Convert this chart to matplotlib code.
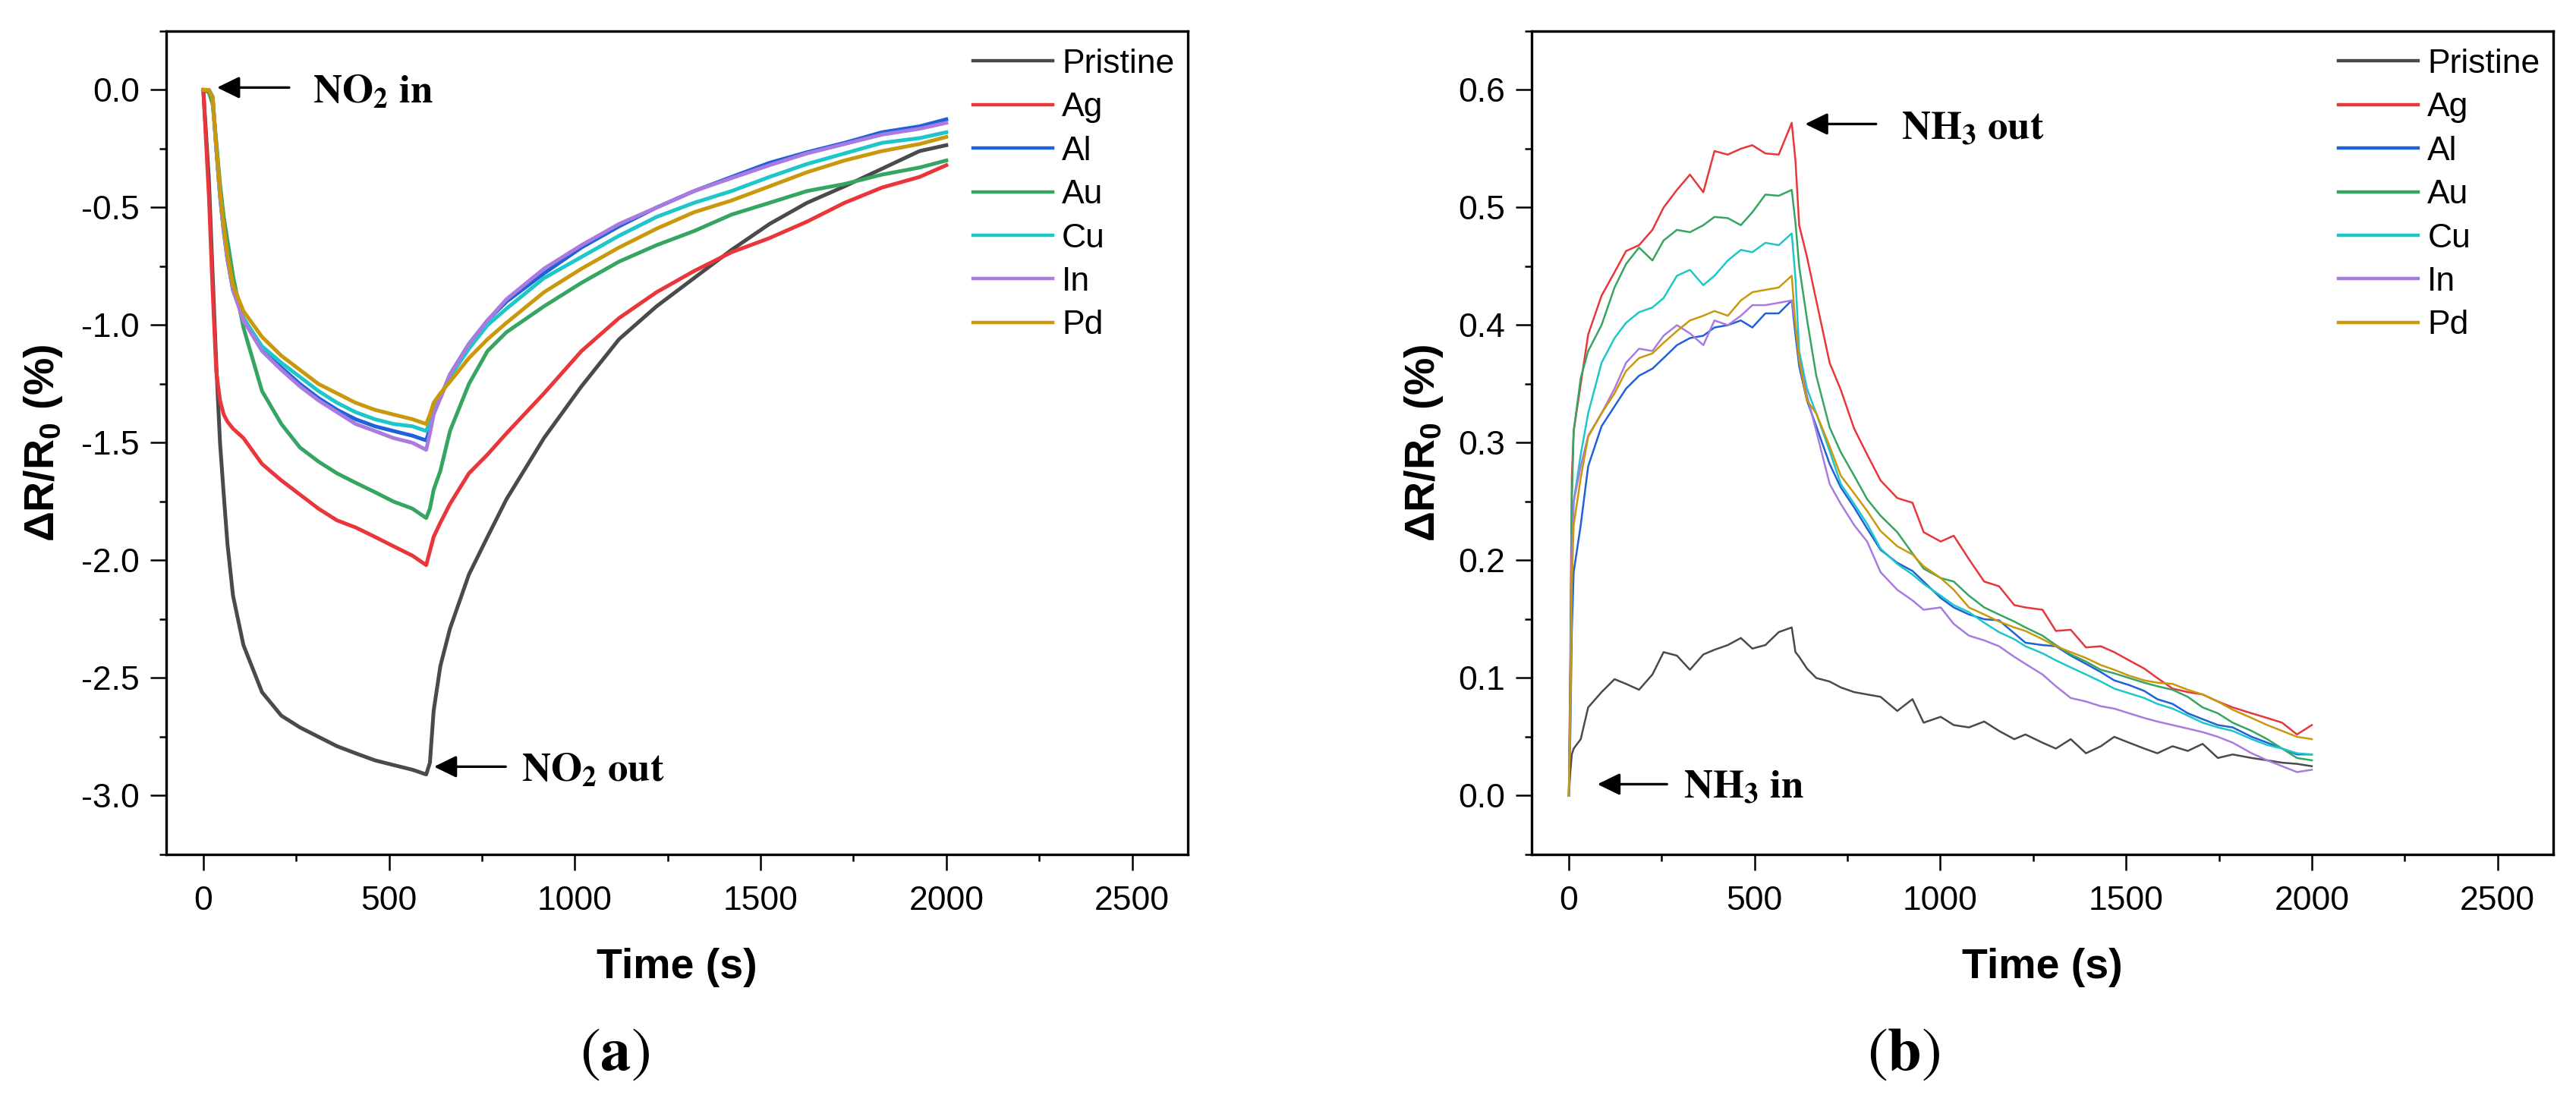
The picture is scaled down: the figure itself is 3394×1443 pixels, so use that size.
import matplotlib
matplotlib.use('Agg')
import matplotlib.pyplot as plt
from matplotlib.ticker import MultipleLocator

plt.rcParams['font.family'] = ['Liberation Sans', 'DejaVu Sans']
plt.rcParams['axes.unicode_minus'] = False
plt.rcParams['mathtext.fontset'] = 'custom'
plt.rcParams['mathtext.rm'] = 'Liberation Sans'
plt.rcParams['mathtext.bf'] = 'Liberation Sans:bold'

labels = ['Pristine', 'Ag', 'Al', 'Au', 'Cu', 'In', 'Pd']
colors = ['#4a4a4a', '#e8363b', '#1f61d8', '#35a561', '#1ec6c9', '#a97be0', '#c9980c']

# (a) NO2 response, time in s
t_a = [0, 15, 25, 35, 45, 55, 65, 80, 108, 158, 210, 260, 310, 360, 410, 462, 512, 563, 600, 610,
       620, 638, 664, 715, 765, 816, 917, 1018, 1119, 1220, 1321, 1422, 1524, 1625, 1726, 1827, 1928, 2000]
pristine_a = [0, -0.38, -0.78, -1.17, -1.50, -1.72, -1.93, -2.15, -2.36, -2.56, -2.66, -2.71, -2.75, -2.79,
              -2.82, -2.85, -2.87, -2.89, -2.91, -2.86, -2.64, -2.45, -2.29, -2.06, -1.90, -1.74, -1.48,
              -1.26, -1.06, -0.92, -0.80, -0.68, -0.57, -0.48, -0.41, -0.335, -0.26, -0.235]
ag_a = [0, -0.45, -0.85, -1.20, -1.32, -1.38, -1.41, -1.44, -1.48, -1.59, -1.66, -1.72, -1.78, -1.83,
        -1.86, -1.90, -1.94, -1.98, -2.02, -1.96, -1.90, -1.84, -1.76, -1.63, -1.55, -1.46, -1.29,
        -1.11, -0.97, -0.86, -0.77, -0.69, -0.63, -0.56, -0.48, -0.415, -0.37, -0.32]
al_a = [0, 0, -0.03, -0.25, -0.45, -0.60, -0.72, -0.85, -0.97, -1.10, -1.18, -1.25, -1.31, -1.36,
        -1.40, -1.43, -1.45, -1.47, -1.49, -1.44, -1.37, -1.31, -1.21, -1.08, -0.98, -0.90, -0.78,
        -0.67, -0.58, -0.50, -0.43, -0.37, -0.31, -0.265, -0.225, -0.18, -0.155, -0.125]
au_a = [0, -0.01, -0.06, -0.22, -0.40, -0.54, -0.64, -0.79, -1.01, -1.28, -1.42, -1.52, -1.58, -1.63,
        -1.67, -1.71, -1.75, -1.78, -1.82, -1.78, -1.70, -1.62, -1.45, -1.25, -1.11, -1.03, -0.92,
        -0.82, -0.73, -0.66, -0.60, -0.53, -0.48, -0.43, -0.40, -0.36, -0.33, -0.30]
cu_a = [0, 0, -0.03, -0.25, -0.45, -0.60, -0.72, -0.85, -0.97, -1.09, -1.16, -1.22, -1.28, -1.33,
        -1.37, -1.40, -1.42, -1.43, -1.45, -1.41, -1.35, -1.30, -1.22, -1.10, -1.00, -0.93, -0.80,
        -0.71, -0.62, -0.54, -0.48, -0.43, -0.37, -0.315, -0.27, -0.225, -0.205, -0.18]
in_a = [0, 0, -0.03, -0.25, -0.45, -0.60, -0.72, -0.85, -0.98, -1.11, -1.19, -1.26, -1.32, -1.37,
        -1.42, -1.45, -1.48, -1.50, -1.53, -1.46, -1.38, -1.31, -1.21, -1.08, -0.98, -0.89, -0.76,
        -0.66, -0.57, -0.50, -0.43, -0.375, -0.32, -0.27, -0.23, -0.19, -0.165, -0.14]
pd_a = [0, 0, -0.03, -0.24, -0.43, -0.58, -0.70, -0.83, -0.94, -1.05, -1.13, -1.19, -1.25, -1.29,
        -1.33, -1.36, -1.38, -1.40, -1.42, -1.38, -1.33, -1.29, -1.24, -1.14, -1.06, -0.99, -0.86,
        -0.76, -0.67, -0.59, -0.52, -0.47, -0.41, -0.35, -0.30, -0.26, -0.23, -0.20]

# (b) NH3 response
t_b = [0, 4, 8, 13, 32, 52, 88, 123, 154, 189,
       225, 255, 291, 326, 362, 392, 428, 463, 494, 529,
       565, 600, 610, 620, 641, 666, 702, 732, 768, 803,
       839, 884, 925, 955, 1001, 1036, 1077, 1118, 1158, 1199,
       1229, 1275, 1311, 1351, 1392, 1432, 1468, 1508, 1549, 1584,
       1625, 1666, 1706, 1747, 1787, 1838, 1880, 1920, 1960, 2000]
pristine_b = [0, 0.02, 0.035, 0.040, 0.048, 0.075, 0.088, 0.099, 0.095, 0.090,
              0.103, 0.122, 0.119, 0.107, 0.120, 0.124, 0.128, 0.134, 0.125, 0.128,
              0.139, 0.143, 0.122, 0.118, 0.108, 0.100, 0.097, 0.092, 0.088, 0.086,
              0.084, 0.072, 0.082, 0.062, 0.067, 0.060, 0.058, 0.063, 0.055, 0.048,
              0.052, 0.045, 0.040, 0.048, 0.036, 0.042, 0.050, 0.045, 0.040, 0.036,
              0.042, 0.038, 0.044, 0.032, 0.035, 0.032, 0.030, 0.028, 0.027, 0.025]
ag_b = [0, 0.12, 0.27, 0.31, 0.35, 0.392, 0.425, 0.445, 0.463, 0.468,
        0.481, 0.500, 0.515, 0.528, 0.513, 0.548, 0.545, 0.550, 0.553, 0.546,
        0.545, 0.572, 0.540, 0.485, 0.458, 0.421, 0.368, 0.345, 0.312, 0.290,
        0.268, 0.253, 0.249, 0.224, 0.216, 0.221, 0.201, 0.182, 0.178, 0.162,
        0.160, 0.158, 0.140, 0.141, 0.126, 0.127, 0.122, 0.115, 0.108, 0.100,
        0.091, 0.088, 0.086, 0.080, 0.075, 0.070, 0.066, 0.062, 0.052, 0.060]
al_b = [0, 0.05, 0.14, 0.19, 0.23, 0.280, 0.314, 0.331, 0.346, 0.357,
        0.363, 0.372, 0.383, 0.389, 0.391, 0.398, 0.400, 0.404, 0.398, 0.410,
        0.410, 0.421, 0.392, 0.365, 0.336, 0.314, 0.282, 0.262, 0.245, 0.227,
        0.209, 0.198, 0.191, 0.182, 0.168, 0.160, 0.154, 0.150, 0.149, 0.138,
        0.130, 0.128, 0.127, 0.119, 0.112, 0.105, 0.098, 0.094, 0.089, 0.082,
        0.078, 0.070, 0.065, 0.060, 0.058, 0.050, 0.045, 0.040, 0.035, 0.035]
au_b = [0, 0.10, 0.25, 0.31, 0.355, 0.378, 0.400, 0.432, 0.452, 0.466,
        0.455, 0.472, 0.481, 0.479, 0.485, 0.492, 0.491, 0.485, 0.496, 0.511,
        0.510, 0.515, 0.487, 0.450, 0.405, 0.357, 0.313, 0.292, 0.272, 0.252,
        0.238, 0.224, 0.206, 0.193, 0.185, 0.182, 0.170, 0.160, 0.154, 0.148,
        0.143, 0.136, 0.128, 0.120, 0.114, 0.107, 0.104, 0.100, 0.096, 0.093,
        0.090, 0.084, 0.075, 0.070, 0.062, 0.055, 0.048, 0.040, 0.032, 0.030]
cu_b = [0, 0.08, 0.20, 0.25, 0.29, 0.325, 0.368, 0.389, 0.402, 0.411,
        0.415, 0.423, 0.442, 0.447, 0.434, 0.442, 0.455, 0.464, 0.462, 0.470,
        0.468, 0.478, 0.440, 0.378, 0.346, 0.325, 0.293, 0.265, 0.248, 0.231,
        0.210, 0.197, 0.188, 0.180, 0.170, 0.162, 0.156, 0.147, 0.139, 0.133,
        0.127, 0.121, 0.115, 0.109, 0.103, 0.097, 0.091, 0.087, 0.083, 0.078,
        0.074, 0.068, 0.062, 0.058, 0.055, 0.048, 0.043, 0.040, 0.036, 0.035]
in_b = [0, 0.08, 0.20, 0.25, 0.28, 0.306, 0.325, 0.346, 0.368, 0.380,
        0.378, 0.391, 0.400, 0.393, 0.383, 0.404, 0.400, 0.408, 0.417, 0.417,
        0.419, 0.421, 0.400, 0.372, 0.340, 0.310, 0.265, 0.248, 0.230, 0.216,
        0.190, 0.175, 0.166, 0.158, 0.160, 0.146, 0.136, 0.132, 0.127, 0.118,
        0.112, 0.103, 0.093, 0.083, 0.080, 0.076, 0.074, 0.070, 0.066, 0.063,
        0.060, 0.057, 0.054, 0.050, 0.045, 0.036, 0.030, 0.025, 0.020, 0.022]
pd_b = [0, 0.07, 0.18, 0.23, 0.27, 0.305, 0.325, 0.342, 0.361, 0.372,
        0.376, 0.385, 0.395, 0.404, 0.408, 0.412, 0.408, 0.421, 0.428, 0.430,
        0.432, 0.442, 0.400, 0.370, 0.336, 0.325, 0.297, 0.272, 0.257, 0.242,
        0.225, 0.212, 0.205, 0.195, 0.185, 0.175, 0.160, 0.154, 0.148, 0.143,
        0.140, 0.133, 0.127, 0.122, 0.117, 0.111, 0.107, 0.102, 0.098, 0.096,
        0.095, 0.090, 0.086, 0.080, 0.073, 0.066, 0.060, 0.055, 0.050, 0.048]

series_a = [pristine_a, ag_a, al_a, au_a, cu_a, in_a, pd_a]
series_b = [pristine_b, ag_b, al_b, au_b, cu_b, in_b, pd_b]


def style_axes(ax, ylim, ymaj, ymin, ylabelpad):
    ax.set_xlim(-100, 2650)
    ax.set_ylim(*ylim)
    ax.xaxis.set_major_locator(MultipleLocator(500))
    ax.xaxis.set_minor_locator(MultipleLocator(250))
    ax.yaxis.set_major_locator(MultipleLocator(ymaj))
    ax.yaxis.set_minor_locator(MultipleLocator(ymin))
    ax.tick_params(which='major', direction='out', length=7.7, width=0.9, labelsize=16)
    ax.tick_params(which='minor', direction='out', length=3.4, width=0.9)
    ax.tick_params(axis='x', pad=7)
    ax.tick_params(axis='y', pad=5)
    for s in ax.spines.values():
        s.set_linewidth(1.2)
    ax.set_xlabel('Time (s)', fontsize=20, fontweight='bold', labelpad=15)
    ax.set_ylabel('ΔR/R$_\\mathbf{0}$ (%)', fontsize=20, fontweight='bold', labelpad=ylabelpad)
    leg = ax.legend(frameon=False, fontsize=16, loc='upper left', bbox_to_anchor=(0.79, 0.979),
                    borderaxespad=0, borderpad=0, handlelength=2.36, handletextpad=0.27,
                    labelspacing=0.37)
    for h in leg.get_lines():
        h.set_linewidth(1.6)


def arrow_note(ax, tip, tail, text_xy, text):
    ax.annotate('', xy=tip, xytext=tail,
                arrowprops=dict(arrowstyle='-|>,head_length=0.45,head_width=0.22', color='black',
                                lw=1.2, mutation_scale=20, shrinkA=0, shrinkB=0))
    ax.text(text_xy[0], text_xy[1], text, math_fontfamily='stix', fontsize=19, va='baseline')


fig = plt.figure(figsize=(16.97, 7.215), dpi=200)
ax_a = fig.add_axes([0.0645, 0.2197, 0.3966, 0.7519])
ax_b = fig.add_axes([0.5946, 0.2197, 0.3966, 0.7519])

for ys, lab, c in zip(series_a, labels, colors):
    ax_a.plot(t_a, ys, color=c, lw=1.8, label=lab)
for ys, lab, c in zip(series_b, labels, colors):
    ax_b.plot(t_b, ys, color=c, lw=0.9, label=lab)

style_axes(ax_a, (-3.25, 0.25), 0.5, 0.25, 8)
style_axes(ax_b, (-0.05, 0.65), 0.1, 0.05, 6)

arrow_note(ax_a, (37, 0.01), (231, 0.01), (294, -0.055), r'$\mathbf{NO_2\ in}$')
arrow_note(ax_a, (621, -2.877), (814, -2.877), (857, -2.94), r'$\mathbf{NO_2\ out}$')
arrow_note(ax_b, (636, 0.571), (827, 0.571), (895, 0.558), r'$\mathbf{NH_3\ out}$')
arrow_note(ax_b, (77, 0.0097), (264, 0.0097), (309, -0.002), r'$\mathbf{NH_3\ in}$')

fig.text(0.2387, 0.0374, r'$(\mathbf{a})$', math_fontfamily='stix', fontsize=29, ha='center', va='center')
fig.text(0.739, 0.0374, r'$(\mathbf{b})$', math_fontfamily='stix', fontsize=29, ha='center', va='center')

fig.savefig('out.png', dpi=200)
